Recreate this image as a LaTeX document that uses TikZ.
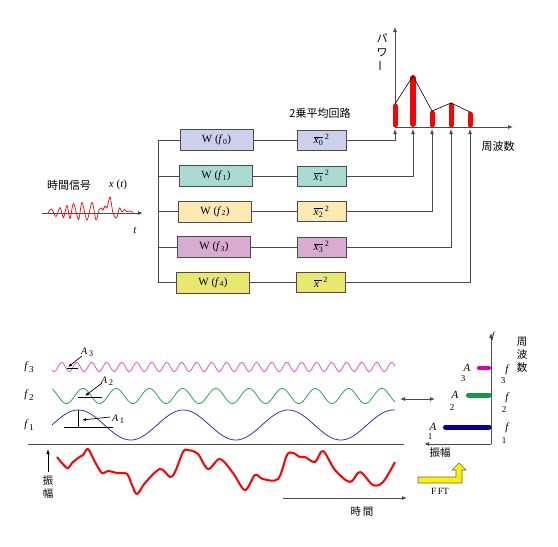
\documentclass[tikz,border=0pt]{standalone}
\usepackage{amsmath}
\usepackage{fontspec}
\setmainfont{Liberation Serif}
\newfontfamily\jp{Noto Sans CJK JP}
\usetikzlibrary{arrows.meta}
\definecolor{c0}{HTML}{CDD0EA}
\definecolor{c1}{HTML}{A8DCD3}
\definecolor{c2}{HTML}{FCEAB2}
\definecolor{c3}{HTML}{DAABD1}
\definecolor{c4}{HTML}{E8E86E}
\definecolor{wmag}{HTML}{E040E0}
\definecolor{wgrn}{HTML}{22AA55}
\definecolor{wblu}{HTML}{3333BB}
\definecolor{bmag}{HTML}{CC00CC}
\definecolor{bgrn}{HTML}{119944}
\definecolor{bblu}{HTML}{000099}
\newcommand{\xsq}[1]{$\overline{\text{\itshape x\textsubscript{\upshape #1}}}^{\,\text{2}}$}
\begin{document}
\begin{tikzpicture}[x=1pt,y=-1pt,
  wbox/.style={draw=black!70, line width=0.8pt, minimum width=73pt, minimum height=21pt, inner sep=0pt, font=\fontsize{11}{12}\selectfont},
  xbox/.style={draw=black!70, line width=0.8pt, minimum width=49pt, minimum height=20pt, inner sep=0pt, font=\fontsize{11.5}{12}\selectfont},
  conn/.style={draw=black!70, line width=0.8pt},
  tip/.style={-{Latex[length=5pt,width=4pt]}},
  jptext/.style={font=\jp\fontsize{11}{12}\selectfont, inner sep=0pt},
  jpsmall/.style={font=\jp\fontsize{10.5}{12}\selectfont, inner sep=0pt},
  lbl/.style={font=\fontsize{11}{12}\selectfont\itshape, inner sep=0pt},
  num/.style={font=\fontsize{9}{10}\selectfont, inner sep=0pt},
  bar/.style={line width=5pt, line cap=round},
  wave/.style={line width=0.8pt, smooth},
  ampline/.style={draw=black, line width=0.7pt}
]
\useasboundingbox (0,0) rectangle (558,547);

% ---------- top: time signal ----------
\node[jptext] (tsig) at (69,185) {時間信号};
\node[lbl] (xt) at (118,185) {x \upshape(\itshape t\upshape)};
\coordinate (ax0) at (42,213);
\coordinate (ax1) at (143,213);
\draw[conn, tip] (ax0) -- (ax1);
\node[lbl] (tl) at (135,230) {t};
\draw[red, line width=0.7pt] plot[smooth, tension=0.5] coordinates {(48,213) (51.5,209) (56,216.5) (60,207.5) (63.5,217.5) (67,205.5) (70,218.5) (73.5,203.5) (78.5,219.5) (82,202.5) (87,220) (92,202.5) (96,220) (99,210) (101.5,208) (103,210) (105,206) (107,208) (110,197) (113,213) (116.5,218) (119.5,208) (122,212) (124.5,209.5) (127,211.5) (130,211) (133,212.5)};

% ---------- filter boxes ----------
\node[wbox, fill=c0] (w0) at (216.5,140) {W (\textit{f}\textsubscript{0})};
\node[wbox, fill=c1] (w1) at (216,176) {W (\textit{f}\textsubscript{1})};
\node[wbox, fill=c2] (w2) at (215,211.5) {W (\textit{f}\textsubscript{2})};
\node[wbox, fill=c3] (w3) at (214,247) {W (\textit{f}\textsubscript{3})};
\node[wbox, fill=c4] (w4) at (213,282.5) {W (\textit{f}\textsubscript{4})};

\node[xbox, fill=c0] (x0) at (321.5,140) {\xsq{0}};
\node[xbox, fill=c1] (x1) at (321.5,176) {\xsq{1}};
\node[xbox, fill=c2] (x2) at (321.5,211.5) {\xsq{2}};
\node[xbox, fill=c3] (x3) at (321.5,247) {\xsq{3}};
\node[xbox, fill=c4] (x4) at (321,282.5) {$\overline{\text{\itshape x\ }}^{\,\text{2}}$};

\node[jptext] (sq) at (320,113) {2乗平均回路};

\coordinate (br0) at (158,140);
\coordinate (br1) at (158,176);
\coordinate (br2) at (158,211.5);
\coordinate (br3) at (158,247);
\coordinate (br4) at (158,282.5);
\draw[conn] (br0) -- (br4);
\foreach \i in {0,...,4} {
  \draw[conn] (br\i) -- (w\i.west);
  \draw[conn] (w\i) -- (x\i);
}

% ---------- power spectrum ----------
\coordinate (O) at (395,127);
\coordinate (ytop) at (395,27);
\coordinate (xend) at (513,127);
\draw[conn, tip] (O) -- (ytop);
\draw[conn, tip] (O) -- (xend);

\coordinate (s0) at (395,129);
\coordinate (s1) at (413,129);
\coordinate (s2) at (432,129);
\coordinate (s3) at (451,129);
\coordinate (s4) at (470,129);
\foreach \i in {0,...,4} {
  \draw[conn, tip] (x\i.east) -| (s\i);
}

\draw[bar, red] (395,125) -- (395,106);
\draw[bar, red, line width=6pt] (413,124) -- (413,78);
\draw[bar, red] (432,125) -- (432,113);
\draw[bar, red] (451,125) -- (451,105);
\draw[bar, red] (470,125) -- (470,114);
\draw[black, line width=0.6pt] (395,104) -- (413,76) -- (432,111) -- (451,103) -- (470,112);

\node[jptext] (pw1) at (382,38) {パ};
\node[jptext] (pw2) at (382,53) {ワ};
\node[jptext, rotate=90] (pw3) at (382,66) {ー};
\node[jptext] (fq) at (498,146) {周波数};

% ---------- bottom: component waves ----------
\draw[wave, wmag, line width=0.7pt] plot[domain=52:395, samples=500] (\x, {367 - 4.5*cos(24*(\x-391.7))});
\draw[wave, wgrn] plot[domain=52:395, samples=400] (\x, {396 - 7.5*cos(10.843*(\x-83))});
\draw[wave, wblu] plot[domain=52:395, samples=300] (\x, {425 - 15*sin(3.4286*(\x-52))});

\node[lbl] (f3) at (29,367) {f\,\raisebox{-3pt}{\upshape\fontsize{9}{10}\selectfont 3}};
\node[lbl] (f2) at (29,395) {f\,\raisebox{-3pt}{\upshape\fontsize{9}{10}\selectfont 2}};
\node[lbl] (f1) at (29,425) {f\,\raisebox{-3pt}{\upshape\fontsize{9}{10}\selectfont 1}};

% amplitude markers
\draw[ampline] (67,368) -- (78,368);
\coordinate (a3s) at (82,356);
\coordinate (a3e) at (68,367);
\draw[ampline, -{Latex[length=4pt,width=3pt]}] (a3s) -- (a3e);
\node[lbl, anchor=west, font=\fontsize{10}{11}\selectfont\itshape] (A3) at (81,352) {A\,\raisebox{-2pt}{\upshape\fontsize{8.5}{9}\selectfont 3}};

\draw[ampline] (78,397) -- (102,397);
\coordinate (a2s) at (102,383);
\coordinate (a2e) at (85,396);
\draw[ampline, -{Latex[length=4pt,width=3pt]}] (a2s) -- (a2e);
\node[lbl, anchor=west, font=\fontsize{10}{11}\selectfont\itshape] (A2) at (101,381) {A\,\raisebox{-2pt}{\upshape\fontsize{8.5}{9}\selectfont 2}};

\draw[ampline] (64,427) -- (113,427);
\draw[ampline] (78,410) -- (78,427);
\coordinate (a1s) at (110,417);
\coordinate (a1e) at (82,420);
\draw[ampline, -{Latex[length=4pt,width=3pt]}] (a1s) -- (a1e);
\node[lbl, anchor=west, font=\fontsize{10}{11}\selectfont\itshape] (A1) at (112,419) {A\,\raisebox{-2pt}{\upshape\fontsize{8.5}{9}\selectfont 1}};

% separator
\coordinate (sep0) at (28,444);
\coordinate (sep1) at (404,444);
\draw[conn, line width=1pt] (sep0) -- (sep1);

% double arrow
\coordinate (da0) at (400,399);
\coordinate (da1) at (435,399);
\draw[conn, {Latex[length=5pt,width=4pt]}-{Latex[length=5pt,width=4pt]}] (da0) -- (da1);

% ---------- bottom: noisy signal ----------
\draw[red, line width=2pt, line join=round] plot[smooth, tension=0.55] coordinates {(57,457) (67,468) (72,463) (78,458) (83,455) (88,449) (95,462) (102,473) (108,471) (117,473) (127,474) (132,485) (137,494) (145,483) (160,469) (170,477) (175,472) (183,452) (188,450) (198,454) (208,469) (220,459) (233,473) (245,490) (255,475) (263,479) (278,479) (287,455) (293,453) (300,457) (305,457) (315,462) (323,451) (335,470) (350,482) (360,472) (373,485) (383,482) (395,462)};

\coordinate (amp0) at (48,472);
\coordinate (amp1) at (48,449);
\draw[black, line width=0.7pt, -{Latex[length=5pt,width=3.5pt]}] (amp0) -- (amp1);
\node[jpsmall] (sh1) at (48,481) {振};
\node[jpsmall] (sh2) at (48,494) {幅};

\coordinate (tm0) at (283,498);
\coordinate (tm1) at (407,498);
\draw[conn, tip] (tm0) -- (tm1);
\node[jpsmall] (jikan) at (362,512) {時\,間};

% ---------- right spectrum ----------
\coordinate (R0) at (491,444);
\coordinate (Rtop) at (491,333);
\coordinate (Rleft) at (424,444);
\draw[conn, tip] (R0) -- (Rtop);
\draw[conn, tip] (R0) -- (Rleft);
\node[lbl, font=\fontsize{9}{10}\selectfont\itshape] (ftop) at (493,336) {f};

\draw[bar, bmag, line width=4pt] (479,368) -- (489,368);
\draw[bar, bgrn] (468.5,395) -- (489,395);
\draw[bar, bblu] (445.5,427) -- (489,427);

\node[lbl] (ra3) at (467,368) {A};
\node[num] (ra3n) at (463,379) {3};
\node[lbl] (ra2) at (455,395) {A};
\node[num] (ra2n) at (452,408) {2};
\node[lbl] (ra1) at (433,427) {A};
\node[num] (ra1n) at (430,437) {1};

\node[lbl] (rf3) at (507,370) {f};
\node[num] (rf3n) at (503,381) {3};
\node[lbl] (rf2) at (507,398) {f};
\node[num] (rf2n) at (504,410) {2};
\node[lbl] (rf1) at (507,428) {f};
\node[num] (rf1n) at (504,441) {1};

\node[jpsmall] (q1) at (522,342) {周};
\node[jpsmall] (q2) at (522,355) {波};
\node[jpsmall] (q3) at (522,368) {数};

\node[jpsmall] (shin) at (440,453) {振幅};

\draw[draw=black!60, fill=yellow, line width=0.6pt] (418,477) -- (456,477) -- (456,470) -- (452,470) -- (459,463) -- (466,470) -- (462,470) -- (462,483) -- (418,483) -- cycle;
\node[font=\fontsize{9.5}{10}\selectfont, inner sep=0pt] (fft) at (440,491) {F\kern1.5pt FT};

\end{tikzpicture}
\end{document}
